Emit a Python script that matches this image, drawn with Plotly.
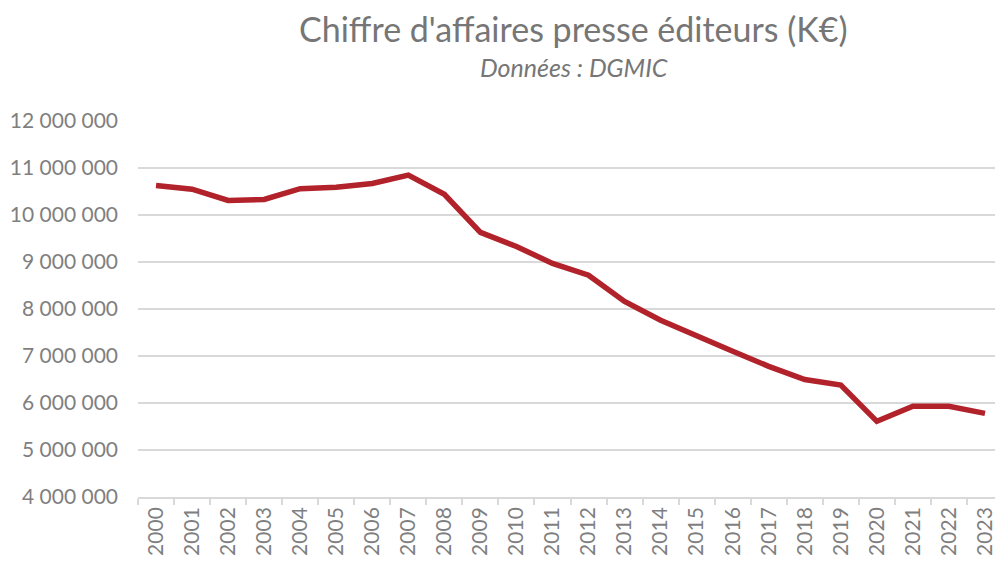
import plotly.graph_objects as go

years = [str(y) for y in range(2000, 2024)]
revenue = [10630000, 10550000, 10310000, 10330000, 10560000, 10590000, 10670000, 10850000,
           10440000, 9630000, 9330000, 8970000, 8720000, 8160000, 7760000, 7420000,
           7100000, 6780000, 6500000, 6380000, 5610000, 5930000, 5930000, 5780000]

title_text = "Chiffre d'affaires presse éditeurs (K€)"
subtitle_text = "Données : DGMIC"

gray = "#7f7f7f"
grid = "#d9d9d9"
font_family = "Lato, 'Open Sans', sans-serif"

# page is rendered with an 8px body offset
OFF = 8
W, H = 1003, 561
# desired plot area in page pixels: x 138..1003, y 121..497
L = 138 - OFF
T = 121 - OFF
R = W - (1003 - OFF)
B = H - (497 - OFF)

fig = go.Figure()
fig.add_trace(go.Scatter(
    x=years, y=revenue, mode="lines",
    line=dict(color="#B2222A", width=5.5),
    hoverinfo="x+y", showlegend=False,
))

fig.update_layout(
    width=W, height=H,
    margin=dict(l=L, r=R, t=T, b=B, autoexpand=False),
    paper_bgcolor="white", plot_bgcolor="white",
    separators=", ",
    font=dict(family=font_family, color=gray),
    xaxis=dict(
        type="category", range=[-0.5, 23.5], automargin=False,
        tickangle=-90, tickfont=dict(size=21, color=gray),
        showgrid=False, showline=True, linecolor=grid, linewidth=1.5,
        ticks="outside", tickson="boundaries", ticklen=6, tickcolor=grid, tickwidth=1.5,
    ),
    yaxis=dict(
        range=[4000000, 12000000], dtick=1000000, tickformat=",.0f", automargin=False,
        tickfont=dict(size=21, color=gray),
        showgrid=True, gridcolor=grid, gridwidth=1.5,
        zeroline=False, showline=False, ticks="", ticklabelstandoff=19,
    ),
)

def px_to_paper(px, py):
    # page pixel -> paper coords
    fx, fy = px - OFF, py - OFF
    return (fx - L) / (W - L - R), (H - B - fy) / (H - T - B)

tx, ty = px_to_paper(573, 29)
sx, sy = px_to_paper(574, 67)
fig.add_annotation(text=title_text, x=tx, y=ty, xref="paper", yref="paper",
                   showarrow=False, font=dict(size=34, color="#767676", family=font_family),
                   xanchor="center", yanchor="middle")
fig.add_annotation(text="<i>" + subtitle_text + "</i>", x=sx, y=sy, xref="paper", yref="paper",
                   showarrow=False, font=dict(size=25, color="#767676", family=font_family),
                   xanchor="center", yanchor="middle")

fig.write_html("out.html")
